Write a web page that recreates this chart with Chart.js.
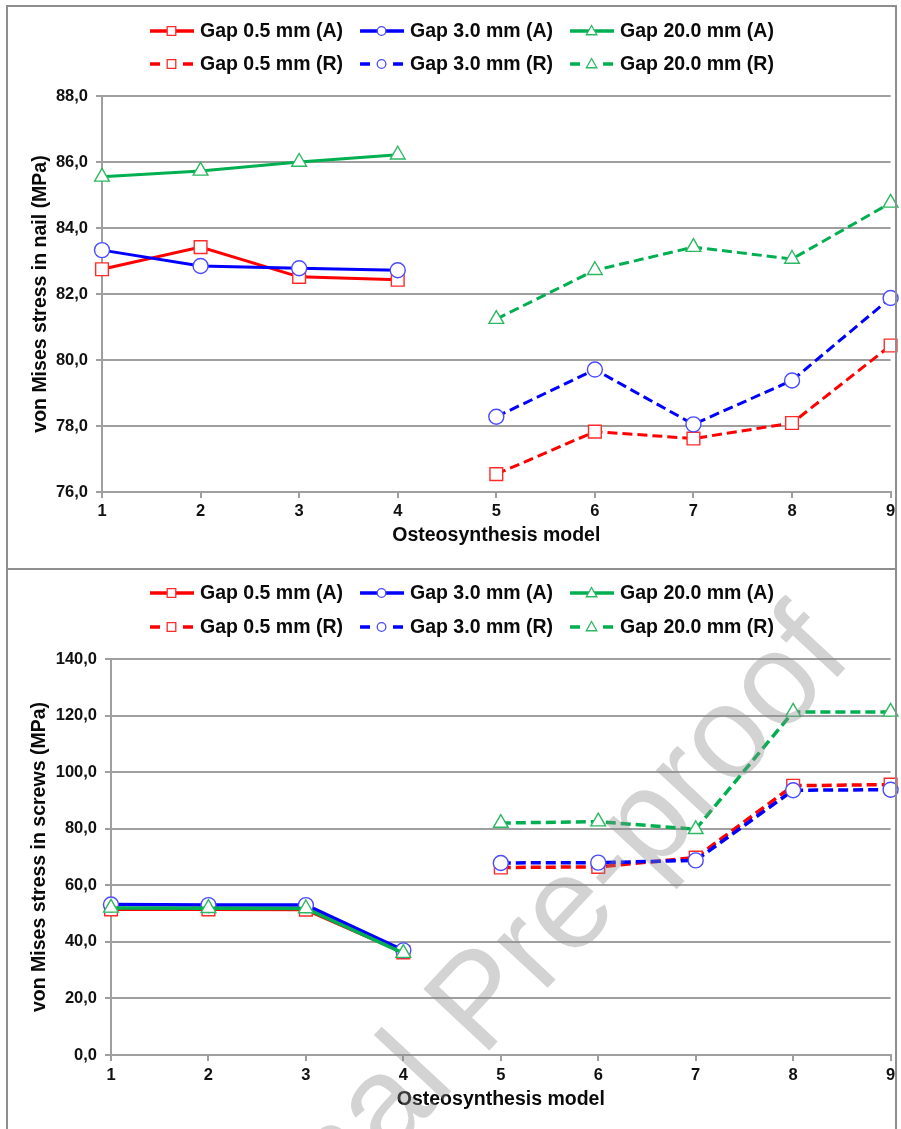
<!DOCTYPE html>
<html>
<head>
<meta charset="utf-8">
<script src="https://cdn.jsdelivr.net/npm/chart.js@4.4.1/dist/chart.umd.min.js"></script>
<style>
  body { margin: 0; background: #fff; width: 901px; height: 1129px; position: relative; overflow: hidden; }
  canvas { position: absolute; left: 0; }
  #nail { top: 0; }
  #screws { top: 569px; }
  .frame { position: absolute; box-sizing: border-box; border: 2px solid #8e8e8e; pointer-events: none; }
  #wm {
    position: absolute; left: 476px; top: 998px;
    transform: translate(-50%, -50%) rotate(-47deg);
    font: 131px "Liberation Sans", Arial, sans-serif; line-height: 1;
    color: rgba(140, 140, 140, 0.38); white-space: nowrap; pointer-events: none;
  }
</style>
</head>
<body>
<canvas id="nail" width="901" height="568"></canvas>
<canvas id="screws" width="901" height="560"></canvas>
<div class="frame" style="left:6px;top:5px;width:891px;height:565px"></div>
<div class="frame" style="left:6px;top:568px;width:891px;height:580px"></div>
<div id="wm">Journal Pre-proof</div>
<script>
// categories
const models = ['1', '2', '3', '4', '5', '6', '7', '8', '9'];
const seriesNames = ['Gap 0.5 mm (A)', 'Gap 3.0 mm (A)', 'Gap 20.0 mm (A)',
                     'Gap 0.5 mm (R)', 'Gap 3.0 mm (R)', 'Gap 20.0 mm (R)'];

// von Mises stress in nail (MPa)
const nail05A  = [82.75, 83.42, 82.52, 82.43, null, null, null, null, null];
const nail30A  = [83.33, 82.85, 82.78, 82.72, null, null, null, null, null];
const nail200A = [85.55, 85.73, 86.00, 86.22, null, null, null, null, null];
const nail05R  = [null, null, null, null, 76.54, 77.83, 77.62, 78.09, 80.44];
const nail30R  = [null, null, null, null, 78.28, 79.71, 78.05, 79.38, 81.88];
const nail200R = [null, null, null, null, 81.24, 82.72, 83.42, 83.06, 84.76];
const nailTicks = [76, 78, 80, 82, 84, 86, 88];

// von Mises stress in screws (MPa)
const screw05A  = [51.5, 51.5, 51.4, 36.3, null, null, null, null, null];
const screw30A  = [53.2, 53.0, 53.0, 37.0, null, null, null, null, null];
const screw200A = [52.0, 51.9, 51.8, 36.0, null, null, null, null, null];
const screw05R  = [null, null, null, null, 66.3, 66.5, 69.8, 95.2, 95.6];
const screw30R  = [null, null, null, null, 67.9, 68.0, 68.8, 93.6, 93.8];
const screw200R = [null, null, null, null, 82.0, 82.5, 79.8, 121.3, 121.3];
const screwTicks = [0, 20, 40, 60, 80, 100, 120, 140];

const FONT = '"Liberation Sans", Arial, sans-serif';
const GRID = '#9f9f9f';
const looks = [
  { color: '#ff0000', mark: '#ff2b2b', shape: 'rect', r: 9, order: 3 },
  { color: '#0000ff', mark: '#4a4aff', shape: 'circle', r: 7.5, order: 2 },
  { color: '#00b050', mark: '#2db862', shape: 'triangle', r: 8.5, order: 1 }
];

function marker(ctx, shape, x, y, s) {
  ctx.beginPath();
  if (shape === 'rect') ctx.rect(x - s, y - s, 2 * s, 2 * s);
  else if (shape === 'circle') ctx.arc(x, y, s, 0, Math.PI * 2);
  else { ctx.moveTo(x, y - s * 1.1); ctx.lineTo(x + s * 1.05, y + s * 0.75); ctx.lineTo(x - s * 1.05, y + s * 0.75); ctx.closePath(); }
  ctx.fill();
  ctx.stroke();
}

// legend: line with marker, dashed for (R), two rows of three
const gapLegend = {
  id: 'gapLegend',
  afterDraw(chart, args, opts) {
    const ctx = chart.ctx;
    const sets = chart.data.datasets;
    ctx.save();
    ctx.font = 'bold 19.5px ' + FONT;
    ctx.textBaseline = 'middle';
    const colW = [0, 1, 2].map(c => Math.max(ctx.measureText(sets[c].label).width, ctx.measureText(sets[c + 3].label).width));
    sets.forEach((ds, i) => {
      const row = Math.floor(i / 3), col = i % 3;
      let x = opts.left;
      for (let c = 0; c < col; c++) x += 50 + colW[c] + 17;
      const y = opts.rows[row];
      const lk = looks[col];
      ctx.strokeStyle = ds.borderColor;
      ctx.lineWidth = 3.5;
      ctx.beginPath();
      if (row === 0) { ctx.moveTo(x, y); ctx.lineTo(x + 44, y); }
      else { ctx.moveTo(x, y); ctx.lineTo(x + 10, y); ctx.moveTo(x + 33, y); ctx.lineTo(x + 43, y); }
      ctx.stroke();
      ctx.lineWidth = 1.3;
      ctx.fillStyle = '#fff';
      ctx.strokeStyle = lk.mark;
      marker(ctx, lk.shape, x + 21.5, y, lk.shape === 'triangle' ? 5 : 4.3);
      ctx.fillStyle = '#0a0a0a';
      ctx.fillText(ds.label, x + 50, y + 1);
    });
    ctx.restore();
  }
};

function buildSets(values, lineWidth) {
  return values.map((data, i) => {
    const lk = looks[i % 3];
    return {
      label: seriesNames[i],
      data,
      borderColor: lk.color,
      borderWidth: lineWidth,
      borderDash: i >= 3 ? [10, 5] : [],
      borderCapStyle: 'butt',
      pointStyle: lk.shape,
      pointRadius: lk.r,
      pointBorderWidth: 1.4,
      pointBorderColor: lk.mark,
      pointBackgroundColor: '#fff',
      tension: 0,
      spanGaps: false,
      clip: false,
      order: lk.order
    };
  });
}

function makeChart(id, values, ticks, yTitle, cfg) {
  const tickFont = { family: FONT, size: 16.5, weight: 'bold' };
  const titleFont = { family: FONT, size: 19.5, weight: 'bold' };
  return new Chart(document.getElementById(id), {
    type: 'line',
    data: { labels: models, datasets: buildSets(values, cfg.lineWidth) },
    options: {
      responsive: false,
      animation: false,
      events: [],
      layout: { padding: { top: cfg.top, right: cfg.right, left: 0, bottom: 0 } },
      plugins: {
        legend: { display: false },
        tooltip: { enabled: false },
        gapLegend: { left: 150, rows: cfg.legendRows }
      },
      scales: {
        x: {
          afterFit: s => { s.height = cfg.xHeight; },
          grid: { drawOnChartArea: false, drawTicks: true, tickLength: 6, color: GRID, lineWidth: 2 },
          border: { display: true, color: GRID, width: 2 },
          ticks: { color: '#111', font: tickFont, padding: cfg.xPad, maxRotation: 0, autoSkip: false },
          title: { display: true, text: 'Osteosynthesis model', color: '#0a0a0a', font: titleFont,
                   padding: { top: 0, bottom: cfg.xTitlePad } }
        },
        y: {
          min: ticks[0],
          max: ticks[ticks.length - 1],
          afterFit: s => { s.width = cfg.yWidth; },
          grid: { color: GRID, lineWidth: 2, tickLength: 6 },
          border: { display: true, color: GRID, width: 2 },
          ticks: {
            stepSize: ticks[1] - ticks[0],
            color: '#111', font: tickFont, padding: 8,
            callback: v => v.toFixed(1).replace('.', ',')
          },
          title: { display: true, text: yTitle, color: '#0a0a0a', font: titleFont,
                   padding: { top: cfg.yTitlePad, bottom: 0 } }
        }
      }
    },
    plugins: [gapLegend]
  });
}

makeChart('nail', [nail05A, nail30A, nail200A, nail05R, nail30R, nail200R], nailTicks,
  'von Mises stress in nail (MPa)',
  { top: 96, right: 9, yWidth: 102, xHeight: 76, xPad: 4, xTitlePad: 20.3, yTitlePad: 29.3,
    lineWidth: 3, legendRows: [31, 64] });

makeChart('screws', [screw05A, screw30A, screw200A, screw05R, screw30R, screw200R], screwTicks,
  'von Mises stress in screws (MPa)',
  { top: 90, right: 8, yWidth: 111, xHeight: 74, xPad: 5, xTitlePad: 17.3, yTitlePad: 27.5,
    lineWidth: 3.5, legendRows: [24, 58] });
</script>
</body>
</html>
